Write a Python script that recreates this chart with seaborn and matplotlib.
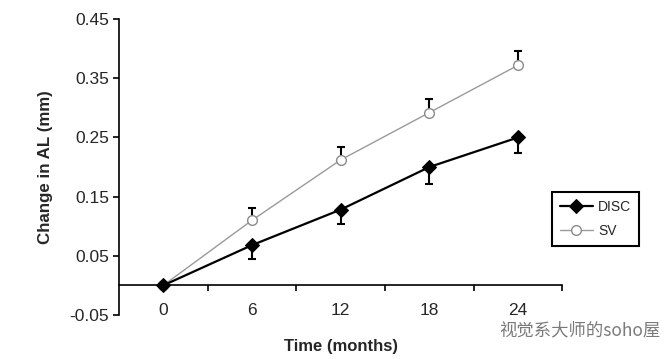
import numpy as np
import pandas as pd
import seaborn as sns
import matplotlib.pyplot as plt

# data
months = ["0", "6", "12", "18", "24"]
disc = [0.0, 0.068, 0.128, 0.200, 0.250]
disc_err = [0.0, 0.024, 0.024, 0.028, 0.027]
sv = [0.0, 0.110, 0.212, 0.292, 0.372]
sv_err = [0.0, 0.021, 0.022, 0.023, 0.024]
yticks = [-0.05, 0.05, 0.15, 0.25, 0.35, 0.45]

sns.set_style("white")
plt.rcParams['font.family'] = ['Liberation Sans', 'DejaVu Sans']

pos = np.arange(len(months))
df = pd.DataFrame({"pos": np.concatenate([pos, pos]),
                   "value": disc + sv,
                   "group": ["DISC"] * len(months) + ["SV"] * len(months)})

fig = plt.figure(figsize=(6.68, 3.59), dpi=100)
ax = fig.add_axes([0.178, 0.1226, 0.664, 0.8244])

# one-sided error bars: DISC down, SV up
zeros = np.zeros(len(months))
ax.errorbar(pos, disc, yerr=[disc_err, zeros], fmt='none', ecolor='black',
            elinewidth=1.5, capsize=2.6, capthick=1.5, zorder=2)
ax.errorbar(pos, sv, yerr=[zeros, sv_err], fmt='none', ecolor='black',
            elinewidth=1.5, capsize=2.6, capthick=1.5, zorder=2)

sns.lineplot(data=df[df.group == "SV"], x="pos", y="value", ax=ax, color='#9a9a9a',
             linewidth=1.0, marker='o', markersize=7, markerfacecolor='white',
             markeredgecolor='#8a8a8a', markeredgewidth=1.0, label="SV", zorder=3)
sns.lineplot(data=df[df.group == "DISC"], x="pos", y="value", ax=ax, color='black',
             linewidth=1.6, marker='D', markersize=7, markerfacecolor='black',
             markeredgecolor='black', label="DISC", zorder=4)

ax.set_xlim(-0.5, len(months) - 0.5)
ax.set_ylim(-0.05, 0.45)
ax.set_yticks(yticks)
ax.set_yticklabels([f"{t:.2f}" for t in yticks])
ax.set_xticks(pos)
ax.set_xticklabels(months)
ax.set_xticks(np.arange(0.5, len(months), 1.0), minor=True)

ax.spines['top'].set_visible(False)
ax.spines['right'].set_visible(False)
ax.spines['bottom'].set_position(('data', 0))
for s in ['left', 'bottom']:
    ax.spines[s].set_color('black')
    ax.spines[s].set_linewidth(1.2)

ax.tick_params(axis='y', which='major', direction='out', length=4, width=1.2,
               color='black', left=True, pad=3, labelsize=12.5)
ax.tick_params(axis='x', which='major', length=0, pad=13, bottom=True,
               labelsize=12.5)
ax.tick_params(axis='x', which='minor', direction='out', length=4, width=1.2,
               color='black', bottom=True)

ax.set_xlabel("")
ax.set_ylabel("Change in AL (mm)", fontsize=12.2, fontweight='bold', labelpad=12)
fig.text(0.511, 0.036, "Time (months)", fontsize=12, fontweight='bold',
         ha='center', va='center')

handles, labels = ax.get_legend_handles_labels()
order = [labels.index("DISC"), labels.index("SV")]
leg = ax.legend([handles[i] for i in order], [labels[i] for i in order],
                loc='upper left', bbox_to_anchor=(0.9765, 0.4155), fontsize=10,
                frameon=True, fancybox=False, edgecolor='black', framealpha=1,
                borderpad=0.55, handlelength=2.4, handletextpad=0.35,
                labelspacing=0.75, borderaxespad=0)
leg.get_frame().set_linewidth(1.5)

fig.text(0.748, 0.08, "视觉系大师的soho屋", fontsize=12.5, color='#7a7a7a',
         family=['Noto Sans CJK SC', 'DejaVu Sans'], ha='left', va='center')

fig.savefig("out.png", dpi=100)
